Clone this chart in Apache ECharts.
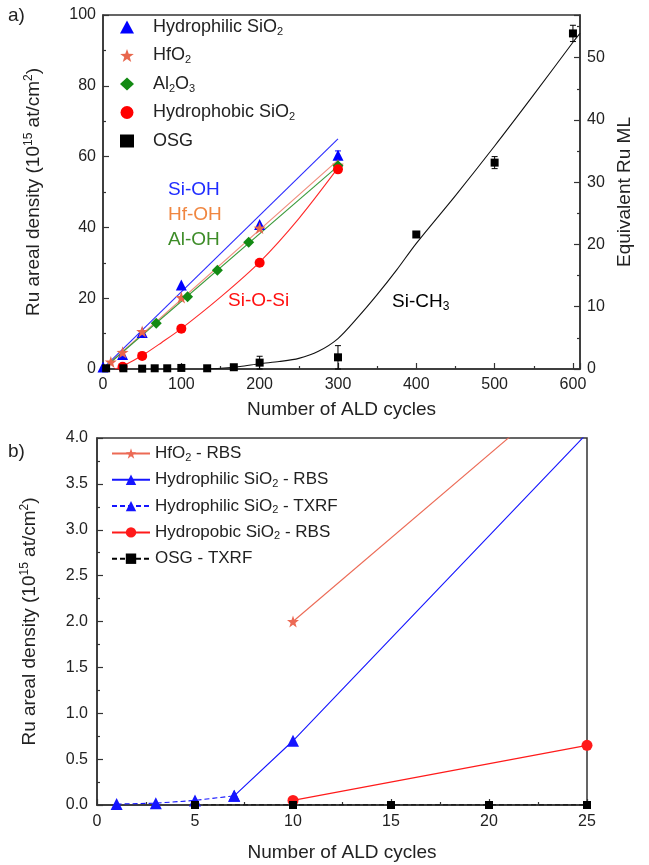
<!DOCTYPE html>
<html>
<head>
<meta charset="utf-8">
<script src="https://cdn.jsdelivr.net/npm/echarts@6/dist/echarts.min.js"></script>
<style>
  html, body { margin: 0; padding: 0; background: #fff; }
  #chart { width: 649px; height: 865px; }
</style>
</head>
<body>
<div id="chart"></div>
<script>
// ---- panel a) data (cycles, 10^15 at/cm2) ----
const philicX = [0, 25, 50, 100, 200, 300];
const philicY = [0.6, 4.1, 10.3, 23.7, 40.8, 60.4];
const hfX = [10, 25, 50, 100, 200, 300];
const hfY = [2.0, 4.7, 10.6, 20.2, 39.8, 57.6];
const alX = [68, 108, 146, 186, 300];
const alY = [12.9, 20.4, 27.9, 35.8, 57.4];
const phobicX = [25, 50, 100, 200, 300];
const phobicY = [0.65, 3.7, 11.4, 30.0, 56.4];
const osgX = [4, 26, 50, 66, 82, 100, 133, 167, 200, 300, 400, 500, 600];
const osgY = [0.2, 0.2, 0.1, 0.2, 0.2, 0.3, 0.2, 0.5, 1.8, 3.3, 38.0, 58.3, 94.8];
// error bars: x, value, +/- error
const errX = [200, 300, 500, 600, 300];
const errY = [1.8, 3.3, 58.3, 94.8, 60.4];
const errD = [1.8, 3.3, 1.7, 2.3, 1.2];
const errColor = ['#000', '#000', '#000', '#000', '#0000ff'];

// fitted guide lines
const fitPhilicX = [0, 300];
const fitPhilicY = [0.2, 65.0];
const fitHfX = [0, 300];
const fitHfY = [0, 59.0];
const fitAlX = [0, 300];
const fitAlY = [0, 57.3];
const fitPhobicX = [15, 25, 50, 75, 100, 150, 200, 250, 300];
const fitPhobicY = [0, 0.8, 3.8, 7.5, 11.4, 20.3, 30.2, 42.5, 56.8];
const fitOsgX = [130, 150, 175, 200, 225, 250, 275, 300, 325, 350, 375, 400, 450, 500, 550, 600, 609];
const fitOsgY = [0, 0.2, 0.7, 1.5, 2.1, 3.0, 5.0, 8.6, 14.5, 21.0, 28.0, 35.5, 49.0, 63.0, 77.5, 92.3, 94.8];

// ---- panel b) data ----
const bHfX = [10, 25];
const bHfY = [2.0, 4.73];
const bPhilicRbsX = [7, 10, 25];
const bPhilicRbsY = [0.1, 0.7, 4.05];
const bPhilicTxrfX = [1, 3, 5, 7];
const bPhilicTxrfY = [0.01, 0.02, 0.05, 0.1];
const bPhobicX = [10, 25];
const bPhobicY = [0.05, 0.65];
const bOsgX = [5, 10, 15, 20, 25];
const bOsgY = [0, 0, 0, 0, 0];

const zip = (xs, ys) => xs.map((x, i) => [x, ys[i]]);

const FONT = "'Liberation Sans', Arial, sans-serif";
const STAR = 'path://M0,-10 L2.35,-3.24 L9.51,-3.09 L3.8,1.24 L5.88,8.09 L0,4 L-5.88,8.09 L-3.8,1.24 L-9.51,-3.09 L-2.35,-3.24 Z';

function richSet(size, lh) {
  return {
    n: { fontSize: size, fontFamily: FONT, color: '#222', lineHeight: lh },
    sub: { fontSize: Math.round(size * 0.62), fontFamily: FONT, color: '#222', lineHeight: Math.round(size * 0.62), verticalAlign: 'bottom' },
    sup: { fontSize: Math.round(size * 0.62), fontFamily: FONT, color: '#222', lineHeight: Math.round(size * 0.62), verticalAlign: 'top' },
    gap: { width: 14 }
  };
}

const topLegendText = {
  'Hydrophilic SiO2': '{gap|}{n|Hydrophilic SiO}{sub|2}',
  'HfO2': '{gap|}{n|HfO}{sub|2}',
  'Al2O3': '{gap|}{n|Al}{sub|2}{n|O}{sub|3}',
  'Hydrophobic SiO2': '{gap|}{n|Hydrophobic SiO}{sub|2}',
  'OSG': '{gap|}{n|OSG}'
};
const botLegendText = {
  'HfO2 - RBS': '{n|HfO}{sub|2}{n| - RBS}',
  'Hydrophilic SiO2 - RBS': '{n|Hydrophilic SiO}{sub|2}{n| - RBS}',
  'Hydrophilic SiO2 - TXRF': '{n|Hydrophilic SiO}{sub|2}{n| - TXRF}',
  'Hydropobic SiO2 - RBS': '{n|Hydropobic SiO}{sub|2}{n| - RBS}',
  'OSG - TXRF': '{n|OSG - TXRF}'
};

const axisLine = { show: true, lineStyle: { color: '#333', width: 1.5 } };
const tick = { show: true, inside: true, length: 6, lineStyle: { color: '#333', width: 1.2 } };
const minor = { show: true, splitNumber: 2, length: 3, lineStyle: { color: '#333', width: 1.2 } };
const label = (m) => ({ fontSize: 16, fontFamily: FONT, color: '#222', margin: m });

function errorBars(params, api) {
  const x = api.value(0), lo = api.value(1), hi = api.value(2);
  const c = errColor[params.dataIndex];
  const p1 = api.coord([x, lo]), p2 = api.coord([x, hi]);
  const w = 3;
  const st = { stroke: c, lineWidth: 1 };
  return {
    type: 'group',
    children: [
      { type: 'line', shape: { x1: p1[0], y1: p1[1], x2: p2[0], y2: p2[1] }, style: st },
      { type: 'line', shape: { x1: p1[0] - w, y1: p1[1], x2: p1[0] + w, y2: p1[1] }, style: st },
      { type: 'line', shape: { x1: p2[0] - w, y1: p2[1], x2: p2[0] + w, y2: p2[1] }, style: st }
    ]
  };
}

function fit(name, xs, ys, color, smooth) {
  return {
    name: name, type: 'line', xAxisIndex: 0, yAxisIndex: 0,
    data: zip(xs, ys), showSymbol: false, symbol: 'none', smooth: smooth ? 0.3 : false,
    lineStyle: { color: color, width: 1.1 }, z: 2, silent: true
  };
}

function pts(name, xs, ys, symbol, size, color) {
  return {
    name: name, type: 'scatter', xAxisIndex: 0, yAxisIndex: 0,
    data: zip(xs, ys), symbol: symbol, symbolSize: size,
    itemStyle: { color: color, opacity: 1 }, z: 4
  };
}

function bline(name, xs, ys, symbol, size, color, dashed) {
  return {
    name: name, type: 'line', xAxisIndex: 1, yAxisIndex: 2,
    data: zip(xs, ys), symbol: symbol, symbolSize: size, showAllSymbol: true,
    clip: true,
    itemStyle: { color: color },
    lineStyle: { color: color, width: 1.1, type: dashed ? [5, 3] : 'solid' },
    z: 4
  };
}

const option = {
  animation: false,
  backgroundColor: '#fff',
  grid: [
    { left: 103, top: 15, width: 477, height: 354, show: true, borderColor: '#333', borderWidth: 1.5 },
    { left: 97, top: 438, width: 490, height: 367, show: true, borderColor: '#333', borderWidth: 1.5 }
  ],
  legend: [
    {
      orient: 'vertical', left: 120, top: 18, padding: 0, itemGap: 9.5,
      itemWidth: 14, itemHeight: 13,
      data: Object.keys(topLegendText),
      formatter: (n) => topLegendText[n],
      textStyle: { rich: richSet(18, 20) },
      selectedMode: false
    },
    {
      orient: 'vertical', left: 111, top: 445, padding: 0, itemGap: 8.3,
      itemWidth: 38, itemHeight: 13,
      data: Object.keys(botLegendText),
      formatter: (n) => botLegendText[n],
      textStyle: { rich: richSet(17, 19) },
      selectedMode: false
    }
  ],
  xAxis: [
    {
      gridIndex: 0, type: 'value', min: 0, max: 609, interval: 100,
      axisLine: axisLine, axisTick: tick, minorTick: minor, splitLine: { show: false },
      axisLabel: Object.assign(label(8), { showMaxLabel: false }),
      name: 'Number of ALD cycles', nameLocation: 'middle', nameGap: 31,
      nameTextStyle: { fontSize: 19, fontFamily: FONT, color: '#222' }
    },
    {
      gridIndex: 1, type: 'value', min: 0, max: 25, interval: 5,
      axisLine: axisLine, axisTick: tick, minorTick: minor, splitLine: { show: false },
      axisLabel: label(9),
      name: 'Number of ALD cycles', nameLocation: 'middle', nameGap: 38,
      nameTextStyle: { fontSize: 19, fontFamily: FONT, color: '#222' }
    }
  ],
  yAxis: [
    {
      gridIndex: 0, type: 'value', min: 0, max: 100, interval: 20,
      axisLine: axisLine, axisTick: tick, minorTick: minor, splitLine: { show: false },
      axisLabel: label(7),
      name: '{n|Ru areal density (10}{sup|15}{n| at/cm}{sup|2}{n|)}', nameLocation: 'middle', nameGap: 58,
      nameTextStyle: { rich: richSet(19, 22) }
    },
    {
      gridIndex: 0, type: 'value', position: 'right', min: 0, max: 56.86, interval: 10,
      axisLine: axisLine, axisTick: tick, minorTick: minor, splitLine: { show: false },
      axisLabel: Object.assign(label(7), { showMaxLabel: false }),
      name: 'Equivalent Ru ML', nameLocation: 'middle', nameGap: 32,
      nameTextStyle: { fontSize: 19, fontFamily: FONT, color: '#222' }
    },
    {
      gridIndex: 1, type: 'value', min: 0, max: 4, interval: 0.5,
      axisLine: axisLine, axisTick: tick, minorTick: minor, splitLine: { show: false },
      axisLabel: Object.assign(label(9), { formatter: (v) => v.toFixed(1) }),
      name: '{n|Ru areal density (10}{sup|15}{n| at/cm}{sup|2}{n|)}', nameLocation: 'middle', nameGap: 56,
      nameTextStyle: { rich: richSet(19, 22) }
    }
  ],
  graphic: [
    { type: 'text', left: 8, top: 6, style: { text: 'a)', fontSize: 19, fontFamily: FONT, fill: '#222' } },
    { type: 'text', left: 8, top: 442, style: { text: 'b)', fontSize: 19, fontFamily: FONT, fill: '#222' } },
    { type: 'text', left: 168, top: 180, style: { text: 'Si-OH', fontSize: 19, fontFamily: FONT, fill: '#1f2cff' } },
    { type: 'text', left: 168, top: 205, style: { text: 'Hf-OH', fontSize: 19, fontFamily: FONT, fill: '#f08640' } },
    { type: 'text', left: 168, top: 230, style: { text: 'Al-OH', fontSize: 19, fontFamily: FONT, fill: '#3d8c28' } },
    { type: 'text', left: 228, top: 291, style: { text: 'Si-O-Si', fontSize: 19, fontFamily: FONT, fill: '#ff1010' } },
    {
      type: 'text', left: 392, top: 292,
      style: {
        text: '{n|Si-CH}{sub|3}', fontFamily: FONT,
        rich: richSet(19, 22)
      }
    }
  ],
  series: [
    fit('fitPhilic', fitPhilicX, fitPhilicY, '#2a2aff', false),
    fit('fitHf', fitHfX, fitHfY, '#f08c7c', false),
    fit('fitAl', fitAlX, fitAlY, '#3a9a3a', false),
    fit('fitPhobic', fitPhobicX, fitPhobicY, '#ff2a2a', true),
    fit('fitOsg', fitOsgX, fitOsgY, '#111', true),
    {
      name: 'errors', type: 'custom', xAxisIndex: 0, yAxisIndex: 0,
      data: errX.map((x, i) => [x, errY[i] - errD[i], errY[i] + errD[i]]),
      renderItem: errorBars, z: 3, silent: true
    },
    pts('Hydrophilic SiO2', philicX, philicY, 'triangle', 11, '#0000ff'),
    pts('HfO2', hfX, hfY, STAR, 12, '#e8664c'),
    pts('Al2O3', alX, alY, 'diamond', 11, '#138a13'),
    pts('Hydrophobic SiO2', phobicX, phobicY, 'circle', 10, '#ff0000'),
    pts('OSG', osgX, osgY, 'rect', 8, '#000'),

    bline('HfO2 - RBS', bHfX, bHfY, STAR, 12, '#ec6a55', false),
    bline('Hydrophilic SiO2 - RBS', bPhilicRbsX, bPhilicRbsY, 'triangle', 12, '#1515ff', false),
    bline('Hydrophilic SiO2 - TXRF', bPhilicTxrfX, bPhilicTxrfY, 'triangle', 12, '#1515ff', true),
    bline('Hydropobic SiO2 - RBS', bPhobicX, bPhobicY, 'circle', 11, '#ff1a1a', false),
    bline('OSG - TXRF', bOsgX, bOsgY, 'rect', 8, '#000', true)
  ]
};

const chart = echarts.init(document.getElementById('chart'));
chart.setOption(option);
</script>
</body>
</html>
